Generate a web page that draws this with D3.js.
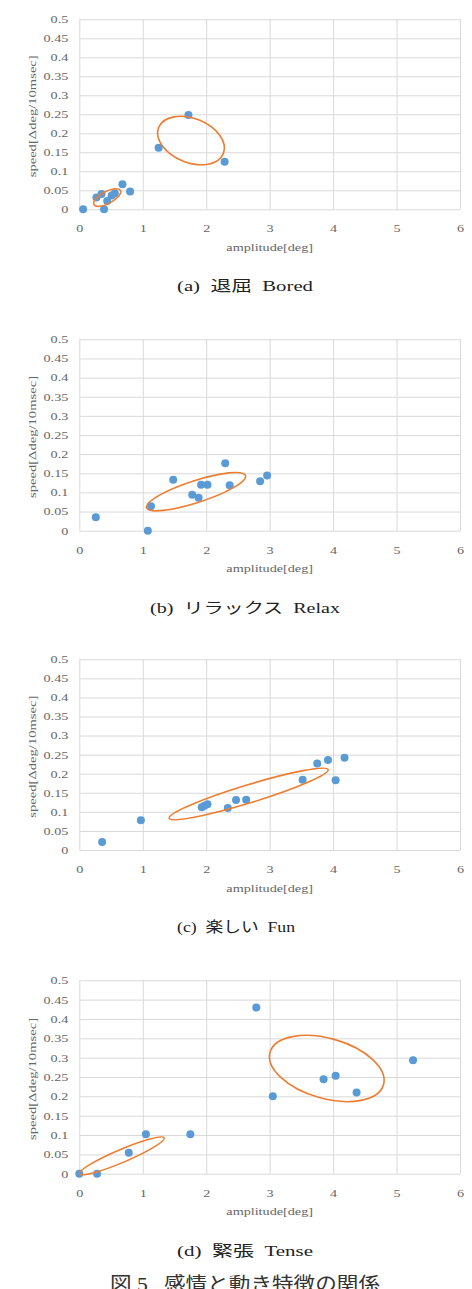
<!DOCTYPE html>
<html>
<head>
<meta charset="utf-8">
<script src="https://cdn.jsdelivr.net/npm/d3@7"></script>
<style>
  body { margin: 0; background: #fff; }
  svg { display: block; }
  .tick text { font-family: "Liberation Serif", serif; font-size: 10.5px; fill: #666; }
  .grid line { stroke: #d9d9d9; stroke-width: 1; }
</style>
</head>
<body>
<div id="main"></div>
<script>
const ctx = { w: 472, h: 1289 };

// amplitude[deg], speed[Δdeg/10msec]
const bored = [[0.06, 0], [0.27, 0.031], [0.35, 0.04], [0.39, 0], [0.44, 0.022], [0.51, 0.036],
  [0.56, 0.042], [0.68, 0.066], [0.80, 0.047], [1.25, 0.162], [1.72, 0.248], [2.29, 0.125]];
const relax = [[0.26, 0.035], [1.08, 0], [1.13, 0.064], [1.48, 0.133], [1.78, 0.094], [1.88, 0.086],
  [1.92, 0.12], [2.02, 0.12], [2.30, 0.176], [2.37, 0.119], [2.85, 0.129], [2.96, 0.144]];
const fun = [[0.36, 0.021], [0.97, 0.078], [1.93, 0.112], [1.97, 0.116], [2.02, 0.12], [2.34, 0.11],
  [2.47, 0.131], [2.63, 0.132], [3.52, 0.184], [3.75, 0.227], [3.92, 0.236], [4.04, 0.183], [4.18, 0.242]];
const tense = [[0, 0], [0.28, 0], [0.78, 0.054], [1.05, 0.102], [1.75, 0.102], [2.79, 0.43],
  [3.05, 0.2], [3.85, 0.244], [4.04, 0.253], [4.37, 0.21], [5.26, 0.293]];

// hand-drawn groups: centre (amplitude, speed), radii in amplitude units, tilt in degrees
const boredGroups = [{ cx: 0.44, cy: 0.031, rx: 0.236, ry: 0.095, tilt: -28 },
  { cx: 1.76, cy: 0.181, rx: 0.55, ry: 0.347, tilt: 22 }];
const relaxGroups = [{ cx: 1.84, cy: 0.102, rx: 0.82, ry: 0.173, tilt: -18 }];
const funGroups = [{ cx: 2.67, cy: 0.147, rx: 1.31, ry: 0.142, tilt: -17 }];
const tenseGroups = [{ cx: 0.67, cy: 0.046, rx: 0.725, ry: 0.102, tilt: -23 },
  { cx: 3.9, cy: 0.272, rx: 0.93, ry: 0.473, tilt: 16 }];

const xTicks = [0, 1, 2, 3, 4, 5, 6];
const yTicks = [0, 0.05, 0.1, 0.15, 0.2, 0.25, 0.3, 0.35, 0.4, 0.45, 0.5];
const captions = ["(a)  退屈  Bored", "(b)  リラックス  Relax", "(c)  楽しい  Fun", "(d)  緊張  Tense"];
const figCaption = "図 5   感情と動き特徴の関係";

const panels = [
  { pts: bored, groups: boredGroups, top: 19.3, bottom: 209.3, capX: 177, capW: 136 },
  { pts: relax, groups: relaxGroups, top: 339.3, bottom: 530.7, capX: 150, capW: 190 },
  { pts: fun, groups: funGroups, top: 659.3, bottom: 850, capX: 177, capW: 118 },
  { pts: tense, groups: tenseGroups, top: 980.3, bottom: 1173.7, capX: 177, capW: 136 },
];
const left = 79.3, right = 460;

// the source picture is stretched sideways, so widen text to match
function widen(sel, k) {
  sel.each(function() {
    let w = this.getComputedTextLength();
    d3.select(this).attr("textLength", w * k).attr("lengthAdjust", "spacingAndGlyphs");
  });
}

function drawPanel(svg, p, i) {
  let x = d3.scaleLinear().domain([0, 6]).range([left, right]);
  let y = d3.scaleLinear().domain([0, 0.5]).range([p.bottom, p.top]);
  let g = svg.append("g");

  let gy = g.append("g").attr("class", "grid")
    .attr("transform", "translate(" + left + ",0)")
    .call(d3.axisLeft(y).tickValues(yTicks).tickSize(-(right - left)).tickPadding(11)
      .tickFormat(d => String(+d.toFixed(2))));
  gy.select(".domain").remove();
  widen(gy.selectAll("text"), 1.35);

  let gx = g.append("g").attr("class", "grid")
    .attr("transform", "translate(0," + p.bottom + ")")
    .call(d3.axisBottom(x).tickValues(xTicks).tickSize(-(p.bottom - p.top)).tickPadding(15.7)
      .tickFormat(d3.format("d")));
  gx.select(".domain").remove();
  widen(gx.selectAll("text"), 1.35);

  g.append("text")
    .attr("x", (left + right) / 2).attr("y", p.bottom + 41.5)
    .attr("text-anchor", "middle")
    .style("font-family", "Liberation Serif, serif").style("font-size", "10.5px").style("fill", "#666")
    .text("amplitude[deg]")
    .call(widen, 1.35);

  g.append("text")
    .attr("transform", "translate(36," + ((p.top + p.bottom) / 2 + 2) + ") rotate(-90)")
    .attr("text-anchor", "middle")
    .style("font-family", "Liberation Serif, serif").style("font-size", "10.5px").style("fill", "#666")
    .attr("textLength", 122).attr("lengthAdjust", "spacingAndGlyphs")
    .text("speed[Δdeg/10msec]");

  g.selectAll(".dot").data(p.pts).enter().append("circle")
    .attr("class", "dot")
    .attr("cx", d => x(d[0])).attr("cy", d => y(d[1]))
    .attr("r", 4)
    .style("fill", "#5b9bd5");

  g.selectAll(".group").data(p.groups).enter().append("ellipse")
    .attr("class", "group")
    .attr("transform", d => "translate(" + x(d.cx) + "," + y(d.cy) + ") rotate(" + d.tilt + ")")
    .attr("rx", d => x(d.rx) - x(0)).attr("ry", d => x(d.ry) - x(0))
    .style("fill", "none").style("stroke", "#ed7d31").style("stroke-width", 1.6);

  g.append("text")
    .attr("x", p.capX).attr("y", p.bottom + 82)
    .attr("xml:space", "preserve")
    .style("white-space", "pre")
    .style("font-family", "Liberation Serif, Noto Sans CJK JP, serif").style("font-size", "15px").style("fill", "#222")
    .attr("textLength", p.capW).attr("lengthAdjust", "spacingAndGlyphs")
    .text(captions[i]);
}

function createViz() {
  let svg = d3.select("#main").append("svg").attr("width", ctx.w).attr("height", ctx.h);
  panels.forEach((p, i) => drawPanel(svg, p, i));
  svg.append("text")
    .attr("x", 110).attr("y", 1291)
    .style("white-space", "pre")
    .style("font-family", "Liberation Serif, Noto Sans CJK JP, serif").style("font-size", "19px").style("fill", "#333")
    .attr("textLength", 270).attr("lengthAdjust", "spacingAndGlyphs")
    .text(figCaption);
}

createViz();
</script>
</body>
</html>
